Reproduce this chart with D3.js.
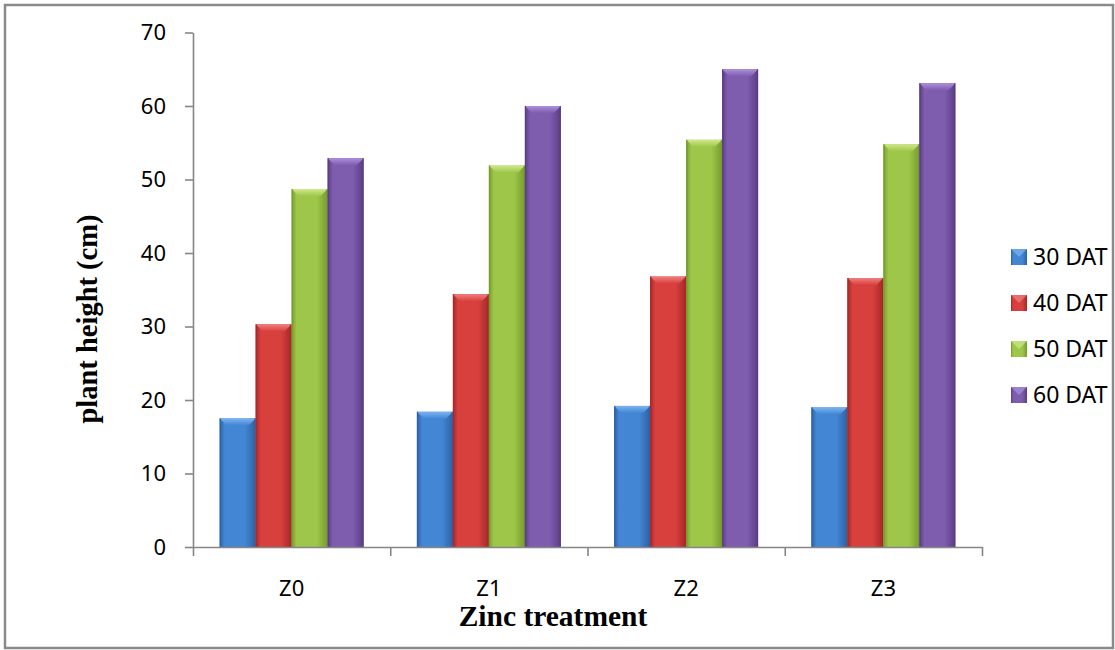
<!DOCTYPE html>
<html>
<head>
<meta charset="utf-8">
<script src="https://cdn.jsdelivr.net/npm/d3@7"></script>
<style>
  html, body { margin: 0; padding: 0; background: #fff; }
  svg { display: block; }
</style>
</head>
<body>
<svg id="chart" width="1115" height="650"></svg>
<script>
// Plant height by zinc treatment, measured at four stages (days after transplanting)
const categories = ["Z0", "Z1", "Z2", "Z3"];
const seriesNames = ["30 DAT", "40 DAT", "50 DAT", "60 DAT"];
const dat30 = [17.5, 18.4, 19.2, 19.0];
const dat40 = [30.3, 34.4, 36.8, 36.6];
const dat50 = [48.7, 51.9, 55.4, 54.8];
const dat60 = [52.9, 60.0, 65.0, 63.1];
const yTicks = [0, 10, 20, 30, 40, 50, 60, 70];

const seriesValues = [dat30, dat40, dat50, dat60];

// bar palette: [edge, middle, top bevel]
const palette = [
  ["#2d62a6", "#4286d4", "#7db4f0"],
  ["#a52828", "#d8403e", "#f08080"],
  ["#779c2c", "#9ec74a", "#cfe88a"],
  ["#5a3d84", "#7e5cae", "#ad90dc"]
];

const svg = d3.select("#chart");
const defs = svg.append("defs");

palette.forEach((c, i) => {
  const g = defs.append("linearGradient").attr("id", "barGrad" + i)
    .attr("x1", "0%").attr("x2", "100%").attr("y1", "0%").attr("y2", "0%");
  g.append("stop").attr("offset", "0%").attr("stop-color", c[0]);
  g.append("stop").attr("offset", "14%").attr("stop-color", c[1]);
  g.append("stop").attr("offset", "70%").attr("stop-color", c[1]);
  g.append("stop").attr("offset", "100%").attr("stop-color", c[0]);
  const t = defs.append("linearGradient").attr("id", "topGrad" + i)
    .attr("x1", "0%").attr("x2", "0%").attr("y1", "0%").attr("y2", "100%");
  t.append("stop").attr("offset", "0%").attr("stop-color", c[2]);
  t.append("stop").attr("offset", "100%").attr("stop-color", c[1]);
});

const plotLeft = 193, plotRight = 982, plotTop = 32.5, plotBottom = 547;

const x = d3.scaleBand().domain(categories).range([plotLeft, plotRight]).padding(0);
const x1 = d3.scaleBand().domain(seriesNames).range([0, x.bandwidth()])
  .paddingInner(0).paddingOuter(0.74);
const y = d3.scaleLinear().domain([0, 70]).range([plotBottom, plotTop]);
const xEdges = d3.scaleLinear().domain([0, categories.length]).range([plotLeft, plotRight]);

// outer frame
svg.append("rect")
  .attr("x", 5).attr("y", 5).attr("width", 1108).attr("height", 643)
  .attr("fill", "none").attr("stroke", "#8a8a8a").attr("stroke-width", 2.5);

// bars
const groups = svg.append("g").selectAll("g")
  .data(categories)
  .join("g")
  .attr("transform", d => `translate(${x(d)},0)`);

groups.each(function (cat, ci) {
  const g = d3.select(this);
  seriesNames.forEach((s, si) => {
    const v = seriesValues[si][ci];
    const bx = x1(s), bw = x1.bandwidth();
    const by = y(v), bh = y(0) - y(v);
    const bev = 7;
    g.append("rect")
      .attr("x", bx).attr("y", by).attr("width", bw).attr("height", bh)
      .attr("fill", `url(#barGrad${si})`);
    // bevelled top edge
    g.append("polygon")
      .attr("points", [
        [bx, by], [bx + bw, by], [bx + bw - bev, by + bev], [bx + bev, by + bev]
      ].map(p => p.join(",")).join(" "))
      .attr("fill", `url(#topGrad${si})`);
    // side edges
    g.append("rect")
      .attr("x", bx).attr("y", by).attr("width", 1.2).attr("height", bh)
      .attr("fill", palette[si][0]).attr("opacity", 0.9);
    g.append("rect")
      .attr("x", bx + bw - 1.2).attr("y", by).attr("width", 1.2).attr("height", bh)
      .attr("fill", palette[si][0]).attr("opacity", 0.9);
  });
});

// y axis
const yAxis = svg.append("g")
  .attr("transform", `translate(${plotLeft},0)`)
  .call(d3.axisLeft(y).tickValues(yTicks).tickSize(8).tickSizeOuter(0).tickPadding(19));
yAxis.select(".domain").attr("stroke", "#868686").attr("stroke-width", 1.6);
yAxis.selectAll(".tick line").attr("stroke", "#868686").attr("stroke-width", 1.6);
yAxis.selectAll(".tick text")
  .attr("font-family", "'Noto Sans', sans-serif").attr("font-size", 22).attr("fill", "#000");

// x axis: tick marks on category boundaries
const xAxis = svg.append("g")
  .attr("transform", `translate(0,${plotBottom})`)
  .call(d3.axisBottom(xEdges).tickValues(d3.range(categories.length + 1))
    .tickFormat("").tickSize(9).tickSizeOuter(0));
xAxis.select(".domain").attr("stroke", "#868686").attr("stroke-width", 1.6);
xAxis.selectAll(".tick line").attr("stroke", "#868686").attr("stroke-width", 1.6);

// category labels
const xLabels = svg.append("g")
  .attr("transform", `translate(0,${plotBottom})`)
  .call(d3.axisBottom(x).tickSize(0).tickPadding(33));
xLabels.select(".domain").remove();
xLabels.selectAll(".tick text")
  .attr("font-family", "'Noto Sans', sans-serif").attr("font-size", 22).attr("fill", "#000");

// axis titles
svg.append("text")
  .attr("x", 553).attr("y", 626)
  .attr("text-anchor", "middle")
  .attr("font-family", "'Liberation Serif', 'Times New Roman', serif")
  .attr("font-weight", "bold").attr("font-size", 29.5)
  .text("Zinc treatment");

svg.append("text")
  .attr("transform", "translate(97,319) rotate(-90)")
  .attr("text-anchor", "middle")
  .attr("font-family", "'Liberation Serif', 'Times New Roman', serif")
  .attr("font-weight", "bold").attr("font-size", 28.5)
  .text("plant height (cm)");

// legend
const legend = svg.append("g");
const legendY = d3.scaleLinear().domain([0, 3]).range([257, 395]);
seriesNames.forEach((s, i) => {
  const ly = legendY(i);
  legend.append("rect")
    .attr("x", 1011).attr("y", ly - 8).attr("width", 16).attr("height", 16)
    .attr("fill", `url(#barGrad${i})`);
  legend.append("polygon")
    .attr("points", [[1011, ly - 8], [1027, ly - 8], [1019, ly]].map(p => p.join(",")).join(" "))
    .attr("fill", palette[i][2]).attr("opacity", 0.7);
  legend.append("text")
    .attr("x", 1033).attr("y", ly).attr("dy", "0.36em")
    .attr("font-family", "'Noto Sans', sans-serif").attr("font-size", 23)
    .attr("fill", "#000")
    .text(s);
});
</script>
</body>
</html>
